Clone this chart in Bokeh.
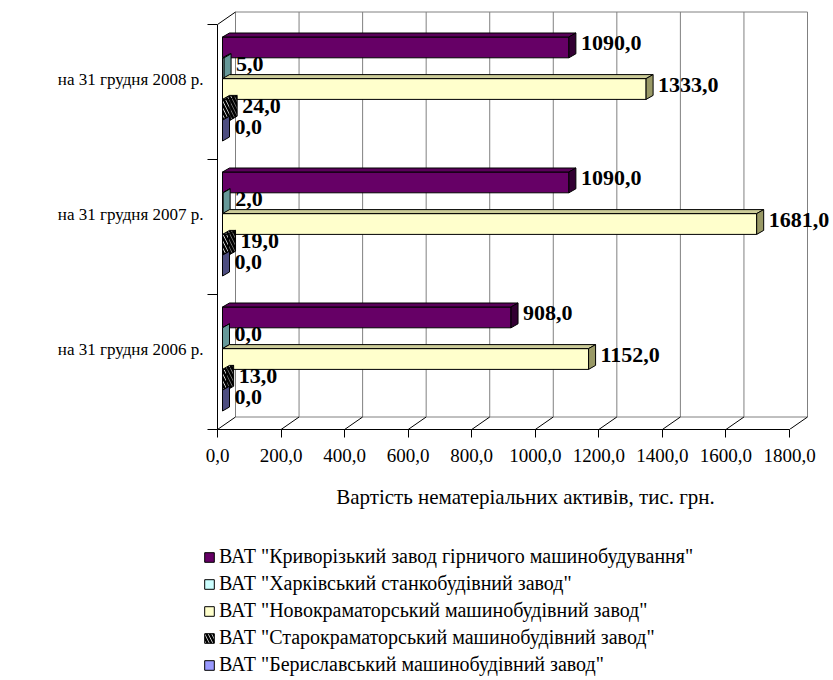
from bokeh.plotting import figure
from bokeh.layouts import column
from bokeh.models import FixedTicker, Range1d, Legend, LegendItem, ColumnDataSource
from bokeh.core.properties import value
from bokeh.embed import file_html
from bokeh.resources import INLINE

# ---------------- data ----------------
categories = ["на 31 грудня 2006 р.", "на 31 грудня 2007 р.", "на 31 грудня 2008 р."]
series_names = [
    'ВАТ "Криворізький завод гірничого машинобудування"',
    'ВАТ "Харківський станкобудівний завод"',
    'ВАТ "Новокраматорський машинобудівний завод"',
    'ВАТ "Старокраматорський машинобудівний завод"',
    'ВАТ "Бериславський машинобудівний завод"',
]
kryvorizkyi = [908.0, 1090.0, 1090.0]
kharkivskyi = [0.0, 2.0, 5.0]
novokramatorskyi = [1152.0, 1681.0, 1333.0]
starokramatorskyi = [13.0, 19.0, 24.0]
beryslavskyi = [0.0, 0.0, 0.0]
series_values = [kryvorizkyi, kharkivskyi, novokramatorskyi, starokramatorskyi, beryslavskyi]
x_ticks = [0, 200, 400, 600, 800, 1000, 1200, 1400, 1600, 1800]
x_tick_labels = ["0,0", "200,0", "400,0", "600,0", "800,0", "1000,0", "1200,0", "1400,0", "1600,0", "1800,0"]
x_title = "Вартість нематеріальних активів, тис. грн."

# ---------------- styles ----------------
FONT = "Liberation Serif"
front_colors = ["#660066", "#CCFFFF", "#FFFFCC", "#FFFFFF", "#9999FF"]
top_colors = ["#5A005A", "#99CCCC", "#CCCC99", "#DDDDDD", "#7777CC"]
side_colors = ["#330033", "#669999", "#999966", "#888888", "#4D4D80"]
hatches = ["", "", "", "\\", ""]

# ---------------- geometry ----------------
W = 833
H_MAIN = 530
H_LEG = 150
FRAME_LEFT = 217
FRAME_BOTTOM = 429
FRAME_W_PX = W - FRAME_LEFT
FRAME_H_PX = FRAME_BOTTOM
PX_PER_X = 572.0 / 1800.0
X_END = FRAME_W_PX / PX_PER_X
BAND_PX = 135.0
Y_END = FRAME_H_PX / BAND_PX


def ux(px):
    return px / PX_PER_X


def uy(px):
    return px / BAND_PX


WALL_DX, WALL_DY = ux(18), uy(12.5)
BAR_SHIFT = ux(5)
BAR_DX, BAR_DY = ux(7), uy(4)
BAR_H = uy(20.8)
GROUP_TOP = uy(12.5)
LABEL_GAP = ux(5)
LABEL_RISE = uy(4)
X_MAX = x_ticks[-1]
N = len(categories)

p = figure(width=W, height=H_MAIN, output_backend="svg", toolbar_location=None,
           x_range=Range1d(0, X_END), y_range=Range1d(0, Y_END),
           min_border_left=FRAME_LEFT, min_border_right=0, min_border_top=0,
           min_border_bottom=H_MAIN - FRAME_BOTTOM)
p.outline_line_color = None
p.xgrid.visible = False
p.ygrid.visible = False

# back wall gridlines (grey)
gx = [v + WALL_DX for v in x_ticks]
p.segment(x0=gx, y0=[WALL_DY] * len(gx), x1=gx, y1=[N + WALL_DY] * len(gx),
          line_color="#808080", line_width=1)
# back wall top line and floor back line
p.segment(x0=[WALL_DX, WALL_DX], y0=[N + WALL_DY, WALL_DY],
          x1=[X_MAX + WALL_DX, X_MAX + WALL_DX], y1=[N + WALL_DY, WALL_DY],
          line_color="#808080", line_width=1)
# floor diagonals
p.segment(x0=x_ticks, y0=[0] * len(x_ticks), x1=gx, y1=[WALL_DY] * len(gx),
          line_color="black", line_width=1)
# left wall top diagonal
p.segment(x0=[0], y0=[N], x1=[WALL_DX], y1=[N + WALL_DY], line_color="black", line_width=1)

# legend figure (below the chart)
LEG_LEFT = 203
LEG_TOP = 15
p2 = figure(width=W, height=H_LEG, output_backend="svg", toolbar_location=None,
            x_range=Range1d(0, X_END), y_range=Range1d(0, Y_END),
            x_axis_location=None, y_axis_location=None,
            min_border_left=LEG_LEFT, min_border_right=0, min_border_top=LEG_TOP, min_border_bottom=0)
p2.frame_align = False
p2.outline_line_color = None
p2.xgrid.visible = False
p2.ygrid.visible = False

legend_items = []
lab_x, lab_y, lab_t = [], [], []
for j, (name, vals) in enumerate(zip(series_names, series_values)):
    tops = [(i + 1) - GROUP_TOP - j * BAR_H for i in range(N)]
    bottoms = [t - BAR_H for t in tops]
    centers = [t - BAR_H / 2 for t in tops]
    x0 = BAR_SHIFT
    x1s = [BAR_SHIFT + v for v in vals]
    hatch_kw = {}
    if hatches[j]:
        hatch_kw = dict(hatch_pattern=hatches[j], hatch_color="black", hatch_scale=7, hatch_weight=2.5)
    style = dict(fill_color=front_colors[j], line_color="black", line_width=1, **hatch_kw)
    src = ColumnDataSource(dict(y=centers, left=[x0] * N, right=x1s))
    p.hbar(y="y", height=BAR_H, left="left", right="right", source=src, **style)
    top_xs = [[x0, x0 + BAR_DX, x1 + BAR_DX, x1] for x1 in x1s]
    top_ys = [[t, t + BAR_DY, t + BAR_DY, t] for t in tops]
    p.patches(xs=top_xs, ys=top_ys, fill_color=top_colors[j], line_color="black", line_width=1, **hatch_kw)
    side_xs = [[x1, x1 + BAR_DX, x1 + BAR_DX, x1] for x1 in x1s]
    side_ys = [[t, t + BAR_DY, b + BAR_DY, b] for t, b in zip(tops, bottoms)]
    p.patches(xs=side_xs, ys=side_ys, fill_color=side_colors[j], line_color="black", line_width=1, **hatch_kw)
    # legend swatch: same series data and style, not drawn itself
    swatch = p2.hbar(y="y", height=BAR_H, left="left", right="right", source=src, visible=False, **style)
    legend_items.append(LegendItem(label=name, renderers=[swatch]))
    for v, x1, c in zip(vals, x1s, centers):
        lab_x.append(x1 + BAR_DX + LABEL_GAP)
        lab_y.append(c + LABEL_RISE)
        lab_t.append(f"{v:.1f}".replace(".", ","))

p.text(x=lab_x, y=lab_y, text=lab_t, text_font=value(FONT), text_font_style="bold",
       text_font_size="22px", text_baseline="middle", text_align="left", text_color="black")

# x axis
xa = p.xaxis[0]
xa.ticker = FixedTicker(ticks=x_ticks, minor_ticks=[])
xa.major_label_overrides = {t: l for t, l in zip(x_ticks, x_tick_labels)}
xa.bounds = (0, X_MAX)
xa.major_tick_out = 8
xa.major_tick_in = 0
xa.axis_line_color = "black"
xa.major_tick_line_color = "black"
xa.major_label_standoff = 11
xa.major_label_text_font = FONT
xa.major_label_text_font_size = "19px"
xa.major_label_text_color = "black"
xa.axis_label = x_title
xa.axis_label_text_font = FONT
xa.axis_label_text_font_size = "21px"
xa.axis_label_text_font_style = "normal"
xa.axis_label_text_color = "black"
xa.axis_label_standoff = 20

# y axis
ya = p.yaxis[0]
label_pos = [i + 0.595 for i in range(N)]
ya.ticker = FixedTicker(ticks=label_pos, minor_ticks=list(range(N + 1)))
ya.major_label_overrides = {t: c for t, c in zip(label_pos, categories)}
ya.bounds = (0, N)
ya.major_tick_line_color = None
ya.major_tick_out = 10
ya.major_tick_in = 0
ya.minor_tick_out = 10
ya.minor_tick_in = 0
ya.minor_tick_line_color = "black"
ya.axis_line_color = "black"
ya.major_label_standoff = 4
ya.major_label_text_font = FONT
ya.major_label_text_font_size = "17px"
ya.major_label_text_color = "black"

legend = Legend(items=legend_items, location="top_left", orientation="vertical",
                glyph_width=12, glyph_height=12, label_standoff=4, spacing=4,
                padding=0, margin=0, label_height=20,
                label_text_font=FONT, label_text_font_size="20px", label_text_color="black",
                background_fill_alpha=0, border_line_alpha=0,
                inactive_fill_alpha=0)
p2.add_layout(legend)

layout = column(p, p2, spacing=0)
open("out.html", "w").write(file_html(layout, INLINE))
